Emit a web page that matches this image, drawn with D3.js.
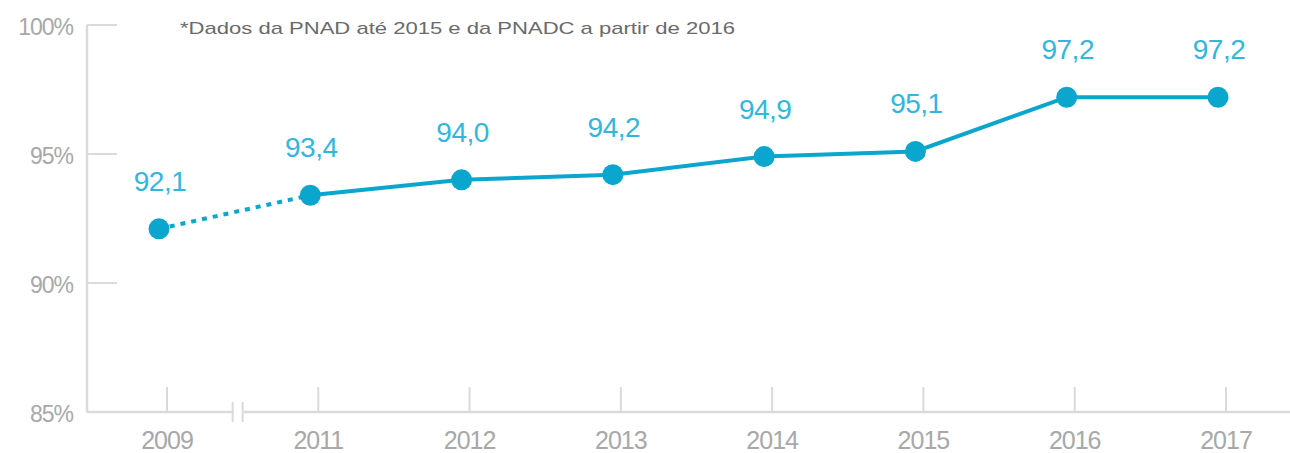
<!DOCTYPE html>
<html><head><meta charset="utf-8">
<script src="https://cdn.jsdelivr.net/npm/d3@7"></script>
<style>html,body{margin:0;padding:0;background:#fff;}svg{display:block;}</style>
</head><body>
<svg id="chart" width="1290" height="453"></svg>
<script>
const years = ["2009","2011","2012","2013","2014","2015","2016","2017"];
const values = [92.1, 93.4, 94.0, 94.2, 94.9, 95.1, 97.2, 97.2];
const valueLabels = ["92,1","93,4","94,0","94,2","94,9","95,1","97,2","97,2"];
const yTicks = [85, 90, 95, 100];
const yTickLabels = ["85%","90%","95%","100%"];
const note = "*Dados da PNAD até 2015 e da PNADC a partir de 2016";

const svg = d3.select("#chart");
const W = 1290, H = 453;
const axisX = 87, axisY = 412;
const x = d3.scalePoint().domain(years).range([159, 1218]);
const y = d3.scaleLinear().domain([85, 100]).range([412, 25]);

const gray = "#dadada", labelGray = "#a8a8a8";
const blue = "#0aa6cd", labelBlue = "#34b6db";
const font = "'Liberation Sans', Arial, sans-serif";

// y axis line
svg.append("line").attr("x1", axisX).attr("x2", axisX).attr("y1", y(100)).attr("y2", axisY)
  .attr("stroke", gray).attr("stroke-width", 2.5);
// y ticks
svg.selectAll(".ytick").data(yTicks).enter().append("line")
  .attr("x1", axisX).attr("x2", axisX + 30).attr("y1", d => y(d)).attr("y2", d => y(d))
  .attr("stroke", gray).attr("stroke-width", 2);
svg.selectAll(".ylab").data(yTicks).enter().append("text")
  .attr("x", 73).attr("y", d => y(d)).attr("dy", "0.42em").attr("text-anchor", "end")
  .attr("font-family", font).attr("font-size", 23).attr("fill", labelGray)
  .attr("letter-spacing", "-1")
  .text((d, i) => yTickLabels[i]);

// x axis line
svg.append("line").attr("x1", axisX).attr("x2", W).attr("y1", axisY).attr("y2", axisY)
  .attr("stroke", gray).attr("stroke-width", 2.5);
const tickOff = 8;
svg.selectAll(".xtick").data(years).enter().append("line")
  .attr("x1", d => x(d) + tickOff).attr("x2", d => x(d) + tickOff)
  .attr("y1", axisY - 25).attr("y2", axisY)
  .attr("stroke", gray).attr("stroke-width", 2);
svg.selectAll(".xlab").data(years).enter().append("text")
  .attr("x", d => x(d) + tickOff).attr("y", 449).attr("text-anchor", "middle")
  .attr("font-family", font).attr("font-size", 25).attr("fill", labelGray)
  .attr("letter-spacing", "-1")
  .text(d => d);

// axis break marks between 2009 and 2011
const bx = (x(years[0]) + x(years[1])) / 2 + tickOff - 6;
svg.append("rect").attr("x", bx - 3).attr("y", axisY - 6).attr("width", 10).attr("height", 12).attr("fill", "#fff");
[bx - 4, bx + 6].forEach(px => {
  svg.append("line").attr("x1", px).attr("x2", px).attr("y1", axisY - 10).attr("y2", axisY + 10)
    .attr("stroke", gray).attr("stroke-width", 2);
});

// note
svg.append("text").attr("x", 180).attr("y", 34)
  .attr("font-family", font).attr("font-size", 17).attr("fill", "#6a6a6a")
  .attr("textLength", 555).attr("lengthAdjust", "spacingAndGlyphs")
  .text(note);

// lines
const data = years.map((yr, i) => ({yr, v: values[i], lab: valueLabels[i]}));
const line = d3.line().x(d => x(d.yr)).y(d => y(d.v));
svg.append("path").datum(data.slice(0, 2)).attr("d", line)
  .attr("fill", "none").attr("stroke", blue).attr("stroke-width", 4)
  .attr("stroke-dasharray", "5,6");
svg.append("path").datum(data.slice(1)).attr("d", line)
  .attr("fill", "none").attr("stroke", blue).attr("stroke-width", 4);

// dots
svg.selectAll(".dot").data(data).enter().append("circle")
  .attr("cx", d => x(d.yr)).attr("cy", d => y(d.v)).attr("r", 10.5).attr("fill", blue);

// value labels
svg.selectAll(".vlab").data(data).enter().append("text")
  .attr("x", d => x(d.yr) + 1).attr("y", d => y(d.v) - 38).attr("text-anchor", "middle")
  .attr("font-family", font).attr("font-size", 28).attr("fill", labelBlue)
  .attr("letter-spacing", "-0.5")
  .text(d => d.lab);
</script>
</body></html>
